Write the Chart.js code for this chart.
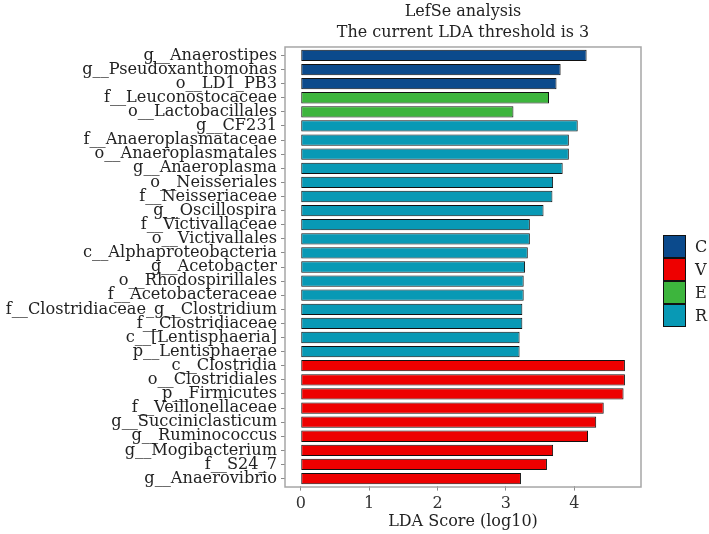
<!DOCTYPE html>
<html>
<head>
<meta charset="utf-8">
<script src="https://cdn.jsdelivr.net/npm/chart.js@4.4.1/dist/chart.umd.min.js"></script>
<style>
html,body{margin:0;padding:0;background:#fff;}
#wrap{width:709px;height:534px;}
</style>
</head>
<body>
<div id="wrap"><canvas id="c" width="709" height="534"></canvas></div>
<script>
const taxa = [
  'g__Anaerostipes','g__Pseudoxanthomonas','o__LD1_PB3','f__Leuconostocaceae','o__Lactobacillales',
  'g__CF231','f__Anaeroplasmataceae','o__Anaeroplasmatales','g__Anaeroplasma','o__Neisseriales',
  'f__Neisseriaceae','g__Oscillospira','f__Victivallaceae','o__Victivallales','c__Alphaproteobacteria',
  'g__Acetobacter','o__Rhodospirillales','f__Acetobacteraceae','f__Clostridiaceae_g__Clostridium','f__Clostridiaceae',
  'c__[Lentisphaeria]','p__Lentisphaerae','c__Clostridia','o__Clostridiales','p__Firmicutes',
  'f__Veillonellaceae','g__Succiniclasticum','g__Ruminococcus','g__Mogibacterium','f__S24_7','g__Anaerovibrio'
];
const ldaScores = [
  4.18,3.80,3.74,3.63,3.11,
  4.05,3.92,3.92,3.83,3.69,
  3.68,3.55,3.35,3.35,3.32,
  3.28,3.26,3.26,3.24,3.24,
  3.20,3.20,4.74,4.74,4.72,
  4.43,4.32,4.20,3.69,3.60,3.22
];
const groupOf = [
  'C','C','C','E','E',
  'R','R','R','R','R',
  'R','R','R','R','R',
  'R','R','R','R','R',
  'R','R','V','V','V',
  'V','V','V','V','V','V'
];
const legendGroups = ['C','V','E','R'];
const groupColors = {C:'#0B4A8C', V:'#EE0000', E:'#3DB53D', R:'#0899B5'};
const xTickValues = [0,1,2,3,4];
const titleLines = ['LefSe analysis','The current LDA threshold is 3'];
const xTitle = 'LDA Score (log10)';

const FONT = "'DejaVu Serif', 'Liberation Serif', serif";

const framePlugin = {
  id: 'frame',
  afterDraw(chart) {
    const {ctx, chartArea} = chart;
    const band = (chartArea.bottom - chartArea.top) / taxa.length;
    const top = chartArea.top - 0.1 * band;
    const bottom = chartArea.bottom + 0.1 * band;
    ctx.save();
    ctx.strokeStyle = '#A6A6A6';
    ctx.lineWidth = 1.5;
    ctx.strokeRect(chartArea.left, top, chartArea.right - chartArea.left, bottom - top);
    // title, centred over the panel
    ctx.font = "16px " + FONT;
    ctx.fillStyle = '#222';
    ctx.textAlign = 'center';
    ctx.textBaseline = 'middle';
    const cx = (chartArea.left + chartArea.right) / 2;
    ctx.fillText(titleLines[0], cx, 11.5);
    ctx.fillText(titleLines[1], cx, 32.5);
    // legend
    const kx = 663, kw = 23, kh = 23;
    const ky0 = 235;
    ctx.textBaseline = 'middle';
    ctx.textAlign = 'left';
    legendGroups.forEach((g, i) => {
      const y = ky0 + i * kh;
      ctx.fillStyle = groupColors[g];
      ctx.fillRect(kx, y, kw, kh);
      ctx.strokeStyle = '#111';
      ctx.lineWidth = 1;
      ctx.strokeRect(kx + 0.5, y + 0.5, kw - 1, kh - 1);
      ctx.fillStyle = '#222';
      ctx.fillText(g, 695, y + kh / 2 + 1);
    });
    ctx.restore();
  }
};

new Chart(document.getElementById('c'), {
  type: 'bar',
  data: {
    labels: taxa,
    datasets: [{
      data: ldaScores,
      backgroundColor: groupOf.map(g => groupColors[g]),
      borderColor: '#111',
      borderWidth: 1,
      borderSkipped: false,
      barPercentage: 0.8,
      categoryPercentage: 1.0
    }]
  },
  options: {
    indexAxis: 'y',
    responsive: false,
    animation: false,
    devicePixelRatio: 1,
    layout: { padding: { left: 0, right: 68, top: 48.4, bottom: 0 } },
    plugins: {
      legend: { display: false },
      tooltip: { enabled: false },
      title: { display: false }
    },
    scales: {
      y: {
        type: 'category',
        offset: true,
        afterFit(scale) { scale.width = 285; },
        grid: { display: true, drawOnChartArea: false, drawTicks: true, tickLength: 4, offset: false, color: '#8a8a8a', lineWidth: 1 },
        border: { display: false },
        ticks: { color: '#222', padding: 4, autoSkip: false, font: { family: FONT, size: 16.2 } }
      },
      x: {
        type: 'linear',
        min: -0.23,
        max: 4.975,
        afterFit(scale) { scale.height = 48.4; },
        afterBuildTicks(scale) { scale.ticks = xTickValues.map(v => ({ value: v })); },
        grid: { display: true, drawOnChartArea: false, drawTicks: true, tickLength: 5, color: '#8a8a8a', lineWidth: 1 },
        border: { display: false },
        ticks: { color: '#333', padding: 4, font: { family: FONT, size: 16 }, callback: v => String(v) },
        title: { display: true, text: xTitle, color: '#222', font: { family: FONT, size: 16 }, padding: { top: 0, bottom: 3 } }
      }
    }
  },
  plugins: [framePlugin]
});
</script>
</body>
</html>
